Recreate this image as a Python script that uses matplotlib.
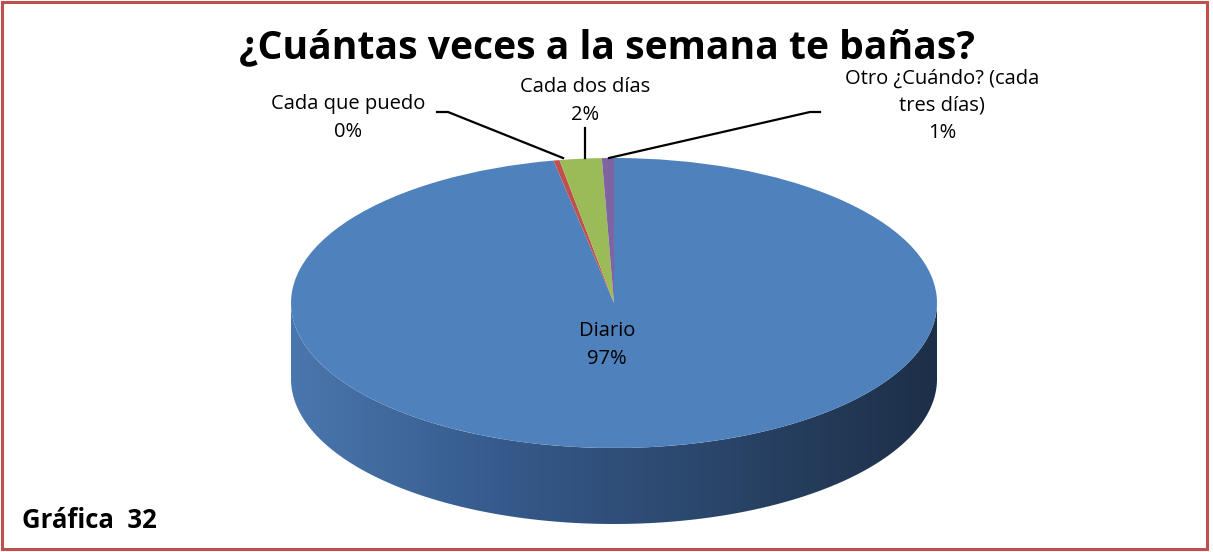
import numpy as np
import matplotlib
matplotlib.use("Agg")
import matplotlib.pyplot as plt
from matplotlib.patches import Polygon, Rectangle
from matplotlib.transforms import Affine2D

# data (clockwise from 12 o'clock, as in the original chart)
categories = ["Diario", "Cada que puedo", "Cada dos días", "Otro ¿Cuándo? (cada\ntres días)"]
values = [97.0, 0.3, 2.1, 0.6]
colors = ["#4F81BD", "#C0504D", "#9BBB59", "#8064A2"]
title = "¿Cuántas veces a la semana te bañas?"
caption = "Gráfica  32"

W, H = 1213, 552
fig = plt.figure(figsize=(W / 100, H / 100), dpi=100)
ax = fig.add_axes([0, 0, 1, 1])

# ellipse geometry (pixel space, y pointing down)
cx, cy, rx, ry, depth = 614, 303, 323, 145, 76

# side wall (front half only), gradient clipped to it
t = np.linspace(np.pi, 2 * np.pi, 200)
top_x = cx + rx * np.cos(t)
top_y = cy - ry * np.sin(t)
side_pts = np.vstack([np.column_stack([top_x, top_y]),
                      np.column_stack([top_x[::-1], top_y[::-1] + depth])])
side = Polygon(side_pts, closed=True, facecolor="none", edgecolor="none")
ax.add_patch(side)
grad = np.linspace(0, 1, 256).reshape(1, -1)
cmap = matplotlib.colors.LinearSegmentedColormap.from_list(
    "side", ["#4A77AE", "#35598A", "#2A4569", "#1D2F48"])
im = ax.imshow(grad, cmap=cmap, aspect="auto",
               extent=[cx - rx, cx + rx, cy + ry + depth, cy - 10], zorder=1)
im.set_clip_path(side)

# top face via ax.pie, squashed into an ellipse
wedges, _ = ax.pie(values, colors=colors, startangle=90, counterclock=False,
                   radius=1, center=(0, 0),
                   wedgeprops=dict(linewidth=0, antialiased=True))
squash = Affine2D().scale(rx, -ry).translate(cx, cy) + ax.transData
for w in wedges:
    w.set_transform(squash)
    w.set_zorder(2)

ax.set_aspect("auto")
ax.set_xlim(0, W)
ax.set_ylim(H, 0)
ax.axis("off")

# data labels
def pct(v):
    return f"{round(v):.0f}%"

lab_font = dict(family="Open Sans", fontsize=14.5, color="#000000",
                ha="center", va="center", linespacing=1.5)
ax.text(607, 345, f"{categories[0]}\n{pct(values[0])}", zorder=5, **lab_font)
ax.text(348, 118, f"{categories[1]}\n{pct(values[1])}", zorder=5, **lab_font)
ax.text(585, 101, f"{categories[2]}\n{pct(values[2])}", zorder=5, **lab_font)
ax.text(942, 106, f"{categories[3]}\n{pct(values[3])}", zorder=5, **lab_font)

# leader lines
ax.plot([437, 448, 563], [112, 112, 158], color="black", lw=1.6, zorder=4)
ax.plot([585, 585], [128, 158], color="black", lw=1.6, zorder=4)
ax.plot([820, 810, 609], [112, 112, 158], color="black", lw=1.6, zorder=4)

ax.text(607, 48, title, ha="center", va="center", fontsize=28.2,
        fontweight="bold", family="Open Sans", zorder=5)
ax.text(22, 521, caption, ha="left", va="center", fontsize=18.5,
        fontweight="bold", family="Open Sans", zorder=5)

# chart border
ax.add_patch(Rectangle((1.5, 1.5), 1205, 547, fill=False,
                       edgecolor="#C0504D", lw=2.2, zorder=6))

fig.savefig("out.png", dpi=100)
